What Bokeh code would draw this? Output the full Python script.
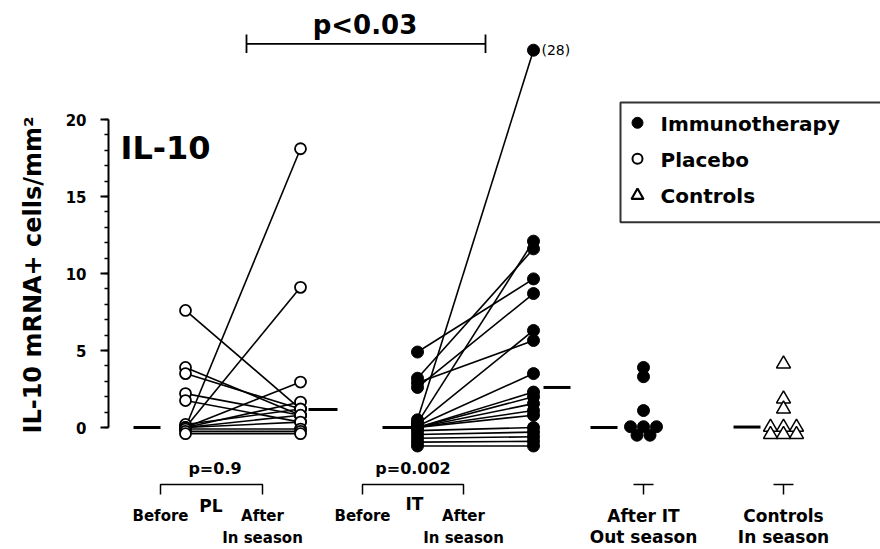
from bokeh.plotting import figure
from bokeh.models import Range1d, FixedTicker, ColumnDataSource
from bokeh.core.properties import value
from bokeh.embed import file_html
from bokeh.resources import INLINE

# ---------------- data ----------------
column_labels = ["Before", "After", "Before", "After", "After IT", "Controls"]
column_sublabels = ["", "In season", "", "In season", "Out season", "In season"]
pair_groups = ["PL", "IT"]
pair_pvalues = ["p=0.9", "p=0.002"]
between_pvalue = "p<0.03"
panel_title = "IL-10"
y_label = "IL-10 mRNA+ cells/mm²"
y_ticks = [0, 5, 10, 15, 20]
legend_labels = ["Immunotherapy", "Placebo", "Controls"]

# Placebo: paired before / after (same index = same patient)
pl_before = [7.6, 3.9, 3.5, 2.2, 1.75, 0.0, 0.0, 0.0, 0.0, 0.2, 0.0, 0.0, -0.1, -0.25, -0.4]
pl_after = [1.2, 0.8, 1.2, 0.8, 0.35, 18.1, 9.1, 2.95, 1.65, 1.2, 0.8, 0.35, -0.1, -0.25, -0.4]

# Immunotherapy: paired before / after
it_before = [0.5, 0.3, 3.2, 4.9, 2.6, 0.2, 2.9, 0.1, 0.0, 0.0, 0.0, 0.0, 0.0, -0.2, -0.45, -0.7, -0.95, -1.2]
it_after = [28.0, 12.1, 11.6, 9.65, 8.7, 6.3, 5.65, 3.5, 2.3, 2.0, 1.55, 1.1, 0.8, 0.0, -0.3, -0.6, -0.9, -1.2]

after_it_out = [3.9, 3.3, 1.1, 0.05, 0.05, 0.05, -0.5, -0.5]
controls = [4.13, 1.86, 1.2, 0.02, 0.02, 0.02, -0.45, -0.45, -0.45]

medians = [0.0, 1.17, 0.0, 2.6, 0.0, 0.03]

# ---------------- layout ----------------
ZERO_PY, PX_PER_UNIT = 427.0, 15.4          # page pixel of y=0, pixels per unit


def Y(py):
    return (ZERO_PY - py) / PX_PER_UNIT


def YT(py_cap_centre, size):
    # text drawn with baseline "middle": shift so that the caps centre on py
    return Y(py_cap_centre + 0.065 * size)


Y_BREAK = 24.5                                # off-scale values drawn here
X_POS = [185, 300, 417, 533, 643, 783]        # column centres (x in page px)
LABEL_X = [160, 262, 362, 463, 643, 783]      # category label centres
MED_OFF = [(-52, -25), (8, 37), (-35, -4), (10, 37), (-53, -26), (-50, -23)]
SWARM_STEP = 13
FONT = value("DejaVu Sans")

W, H = 880, 549
p = figure(width=W, height=H, output_backend="svg", toolbar_location=None,
           x_range=Range1d(108, 880), y_range=Range1d(Y(549), Y(0)),
           x_axis_location=None, min_border_left=108, min_border_right=0,
           min_border_top=0, min_border_bottom=0)
p.outline_line_color = None
p.grid.visible = False
p.background_fill_color = "white"
p.border_fill_color = "white"

ax = p.yaxis[0]
ax.bounds = (0, 20)
ax.ticker = FixedTicker(ticks=y_ticks, minor_ticks=list(range(0, 21)))
ax.axis_line_width = 2
ax.axis_line_color = "black"
ax.major_tick_line_width = 2
ax.major_tick_line_color = "black"
ax.major_tick_out = 8
ax.major_tick_in = 0
ax.minor_tick_line_width = 1.5
ax.minor_tick_line_color = "black"
ax.minor_tick_out = 4
ax.minor_tick_in = 0
ax.major_label_text_font = "DejaVu Sans"
ax.major_label_text_font_style = "bold"
ax.major_label_text_font_size = "15px"
ax.major_label_text_color = "black"
ax.major_label_standoff = 14
ax.axis_label = y_label
ax.axis_label_text_font = "DejaVu Sans"
ax.axis_label_text_font_style = "bold"
ax.axis_label_text_font_size = "24px"
ax.axis_label_text_color = "black"
ax.axis_label_standoff = 16


def disp(vals):
    return [min(v, Y_BREAK) for v in vals]


def swarm(vals, cx):
    xs = []
    for i, v in enumerate(vals):
        same = [j for j, w in enumerate(vals) if w == v]
        k = same.index(i)
        xs.append(cx + (k - (len(same) - 1) / 2) * SWARM_STEP)
    return xs


def label(xs, pys, texts, size, align="center", bold=True):
    p.text(xs, [YT(py, size) for py in pys], text=texts, text_font=FONT,
           text_font_style="bold" if bold else "normal", text_font_size=f"{size}px",
           text_align=align, text_baseline="middle", text_color="black")


# connecting lines
seg = ColumnDataSource(dict(
    x0=[X_POS[0]] * len(pl_before) + [X_POS[2]] * len(it_before),
    y0=disp(pl_before) + disp(it_before),
    x1=[X_POS[1]] * len(pl_after) + [X_POS[3]] * len(it_after),
    y1=disp(pl_after) + disp(it_after)))
p.segment("x0", "y0", "x1", "y1", source=seg, line_color="black", line_width=1.6)

# medians
p.segment(x0=[x + o[0] for x, o in zip(X_POS, MED_OFF)], y0=medians,
          x1=[x + o[1] for x, o in zip(X_POS, MED_OFF)], y1=medians,
          line_color="black", line_width=3)

# placebo points (open circles)
p.scatter([X_POS[0]] * len(pl_before), pl_before, marker="circle", size=11,
          fill_color="white", line_color="black", line_width=1.8)
p.scatter([X_POS[1]] * len(pl_after), pl_after, marker="circle", size=11,
          fill_color="white", line_color="black", line_width=1.8)
# immunotherapy points (filled)
p.scatter([X_POS[2]] * len(it_before), disp(it_before), marker="circle", size=12,
          fill_color="black", line_color="black")
p.scatter([X_POS[3]] * len(it_after), disp(it_after), marker="circle", size=12,
          fill_color="black", line_color="black")
p.scatter(swarm(after_it_out, X_POS[4]), after_it_out, marker="circle", size=12,
          fill_color="black", line_color="black")
# controls (open triangles)
p.scatter(swarm(controls, X_POS[5]), controls, marker="triangle", size=14,
          fill_color="white", line_color="black", line_width=1.5)

# off-scale value label
top_val = max(it_after)
p.text([X_POS[3] + 8], [Y_BREAK], text=[f"({top_val:g})"], text_font=FONT,
       text_font_size="14px", text_baseline="middle", text_align="left")

# title
label([120], [145], [panel_title], 32, align="left")

# top comparison bracket
p.multi_line(xs=[[246, 485], [246, 246], [485, 485]],
             ys=[[Y(43.3), Y(43.3)], [Y(34), Y(52.6)], [Y(34), Y(52.6)]],
             line_color="black", line_width=1.8)
label([364.5], [22.5], [between_pvalue], 26)

# bottom brackets for paired groups
br_xs, br_ys = [], []
for a, b in [(LABEL_X[0], LABEL_X[1]), (LABEL_X[2], LABEL_X[3])]:
    br_xs.append([a, a, b, b])
    br_ys.append([Y(494), Y(484), Y(484), Y(494)])
for c in (LABEL_X[4], LABEL_X[5]):
    br_xs += [[c - 10, c + 10], [c, c]]
    br_ys += [[Y(484), Y(484)], [Y(484), Y(494)]]
p.multi_line(xs=br_xs, ys=br_ys, line_color="black", line_width=1.5)

label([(LABEL_X[0] + LABEL_X[1]) / 2 + 3.5, (LABEL_X[2] + LABEL_X[3]) / 2],
      [467, 467], pair_pvalues, 16)
label([210.5, 414], [504, 502.5], pair_groups, 17)
label(LABEL_X[:4], [514.8] * 4, column_labels[:4], 15)
label([LABEL_X[1], LABEL_X[3]], [536.7] * 2, [column_sublabels[1], column_sublabels[3]], 15)
label(LABEL_X[4:], [514.8] * 2, column_labels[4:], 17)
label(LABEL_X[4:], [535.5] * 2, column_sublabels[4:], 17)

# legend box
p.quad(left=[620], right=[920], top=[Y(102)], bottom=[Y(221.7)], fill_color=None,
       line_color="#333333", line_width=2)
p.scatter([637], [Y(122.3)], marker="circle", size=11, fill_color="black", line_color="black")
p.scatter([637], [Y(158.3)], marker="circle", size=10, fill_color="white",
          line_color="black", line_width=2)
p.scatter([637], [Y(195)], marker="triangle", size=12, fill_color="white",
          line_color="black", line_width=2.2)
label([660] * 3, [121.7, 158.3, 193.7], legend_labels, 20, align="left")

open("out.html", "w").write(file_html(p, INLINE))
